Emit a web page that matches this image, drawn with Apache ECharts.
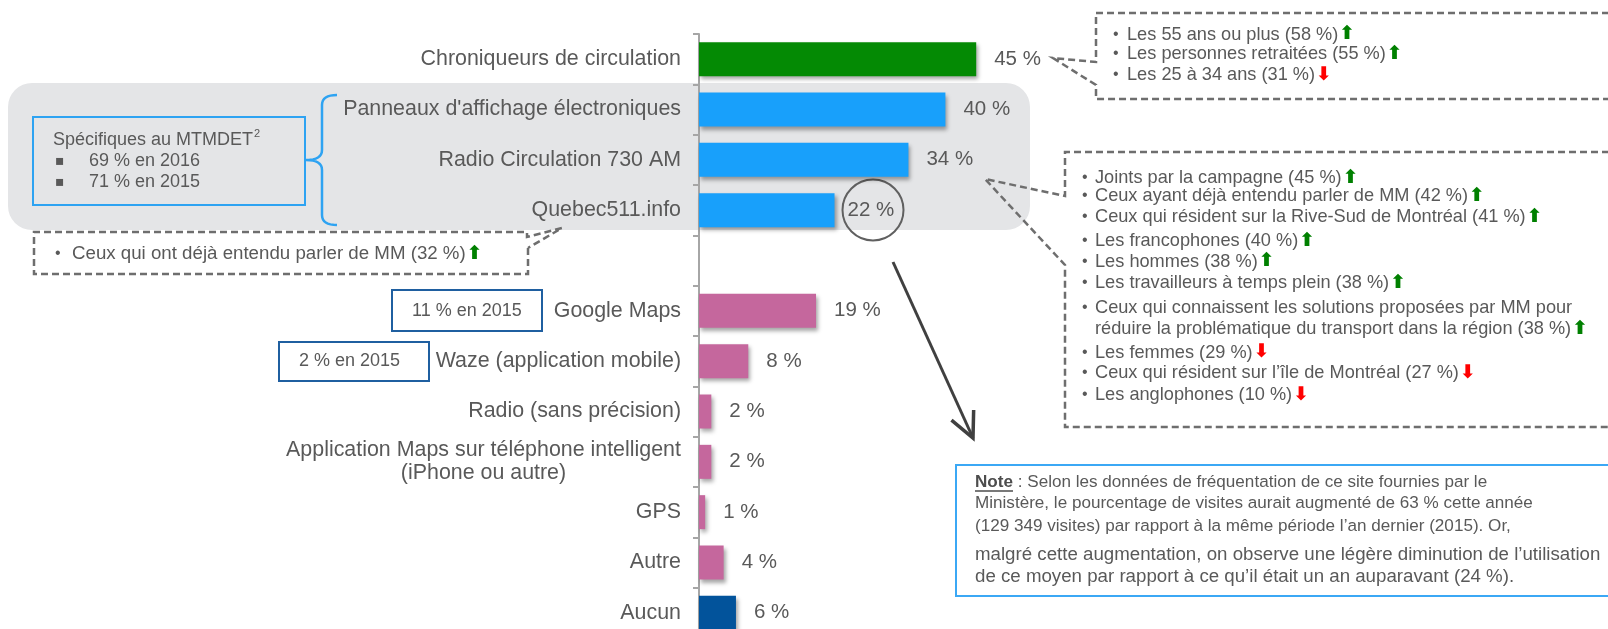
<!DOCTYPE html>
<html>
<head>
<meta charset="utf-8">
<script src="https://cdn.jsdelivr.net/npm/echarts@6/dist/echarts.min.js"></script>
<style>
  html, body { margin: 0; padding: 0; background: #fff; overflow: hidden; }
  #chart { width: 1608px; height: 660px; }
</style>
</head>
<body>
<div id="chart"></div>
<script>
// ---- data ----
var categories = [
    'Chroniqueurs de circulation',
    "Panneaux d'affichage électroniques",
    'Radio Circulation 730 AM',
    'Quebec511.info',
    '',
    'Google Maps',
    'Waze (application mobile)',
    'Radio (sans précision)',
    'Application Maps sur téléphone intelligent\n(iPhone ou autre)',
    'GPS',
    'Autre',
    'Aucun'
];
var values = [45, 40, 34, 22, null, 19, 8, 2, 2, 1, 4, 6];

var topNotes = [
    ['Les 55 ans ou plus (58 %)', 'up'],
    ['Les personnes retraitées (55 %)', 'up'],
    ['Les 25 à 34 ans (31 %)', 'down']
];
var radioNotes = [
    ['Joints par la campagne (45 %)', 'up'],
    ['Ceux ayant déjà entendu parler de MM (42 %)', 'up'],
    ['Ceux qui résident sur la Rive-Sud de Montréal (41 %)', 'up'],
    ['Les francophones (40 %)', 'up'],
    ['Les hommes (38 %)', 'up'],
    ['Les travailleurs à temps plein (38 %)', 'up'],
    ['Ceux qui connaissent les solutions proposées par MM pour', null],
    ['réduire la problématique du transport dans la région (38 %)', 'up', true],
    ['Les femmes (29 %)', 'down'],
    ['Ceux qui résident sur l’île de Montréal (27 %)', 'down'],
    ['Les anglophones (10 %)', 'down']
];
var quebecNote = ['Ceux qui ont déjà entendu parler de MM (32 %)', 'up'];
var noteLines = [
    ' : Selon les données de fréquentation de ce site fournies par le',
    'Ministère, le pourcentage de visites aurait augmenté de 63 % cette année',
    '(129 349 visites) par rapport à la même période l’an dernier (2015). Or,',
    'malgré cette augmentation, on observe une légère diminution de l’utilisation',
    'de ce moyen par rapport à ce qu’il était un an auparavant (24 %).'
];

// ---- style ----
var FONT = '"Liberation Sans", Arial, sans-serif';
var TXT = '#595959';
var DASH = '#6e6e6e';
var barColors = ['#048a04', '#18a0fb', '#18a0fb', '#18a0fb', '#c5679d',
    '#c5679d', '#c5679d', '#c5679d', '#c5679d', '#c5679d', '#c5679d', '#02539b'];

var ctx = document.createElement('canvas').getContext('2d');
function textW(s, size, weight) {
    ctx.font = (weight || 'normal') + ' ' + size + 'px ' + FONT;
    return ctx.measureText(s).width;
}
var appW = Math.ceil(textW(categories[8].split('\n')[0], 21.4));

var arrowRich = {
    up: { fontSize: 19, fontFamily: 'DejaVu Sans', fill: '#008000', fontWeight: 'bold', padding: [0, 0, 0, 1] },
    down: { fontSize: 19, fontFamily: 'DejaVu Sans', fill: '#ff0000', fontWeight: 'bold', padding: [0, 0, 0, 1] }
};

function bulletLines(list, bx, tx, ys, size) {
    var out = [];
    list.forEach(function (it, i) {
        if (!it[2]) {
            out.push({ type: 'text', x: bx, y: ys[i], style: { text: '•', fontSize: 16, fontFamily: FONT, fill: TXT, verticalAlign: 'middle' } });
        }
        var s = it[0] + (it[1] === 'up' ? '{up|⬆}' : it[1] === 'down' ? '{down|⬇}' : '');
        out.push({ type: 'text', x: tx, y: ys[i], style: {
            text: s, rich: arrowRich, fontSize: size, fontFamily: FONT, fill: TXT, verticalAlign: 'middle' } });
    });
    return out;
}

// quadratic curve points for the bracket
function quad(p0, c, p1) {
    var pts = [];
    for (var k = 0; k <= 8; k++) {
        var t = k / 8, u = 1 - t;
        pts.push([u * u * p0[0] + 2 * u * t * c[0] + t * t * p1[0], u * u * p0[1] + 2 * u * t * c[1] + t * t * p1[1]]);
    }
    return pts;
}
var bracket = [].concat(
    quad([337, 95], [322, 95], [322, 105]),
    quad([322, 150], [322, 160], [306, 160]),
    quad([306, 160], [322, 160], [322, 170]),
    quad([322, 215], [322, 225], [337, 225])
);

var dashStyle = { stroke: DASH, lineWidth: 2.5, lineDash: [7, 4], fill: null };

var elements = [
    // grey band behind the MTMDET media
    { type: 'rect', z: -10, shape: { x: 8, y: 83, width: 1022, height: 147, r: 24 }, style: { fill: '#e4e5e7' } },
    // blue box + bracket
    { type: 'rect', shape: { x: 33, y: 117, width: 272, height: 88 }, style: { fill: null, stroke: '#2ea3f2', lineWidth: 2 } },
    { type: 'text', x: 53, y: 140, style: { text: 'Spécifiques au MTMDET', fontSize: 18, fontFamily: FONT, fill: TXT, verticalAlign: 'middle' } },
    { type: 'text', x: 53 + textW('Spécifiques au MTMDET', 18) + 1, y: 134, style: { text: '2', fontSize: 11, fontFamily: FONT, fill: TXT, verticalAlign: 'middle' } },
    { type: 'text', x: 55, y: 161, style: { text: '▪', fontSize: 14, fontFamily: 'DejaVu Sans', fill: TXT, verticalAlign: 'middle' } },
    { type: 'text', x: 89, y: 161, style: { text: '69 % en 2016', fontSize: 18, fontFamily: FONT, fill: TXT, verticalAlign: 'middle' } },
    { type: 'text', x: 55, y: 182, style: { text: '▪', fontSize: 14, fontFamily: 'DejaVu Sans', fill: TXT, verticalAlign: 'middle' } },
    { type: 'text', x: 89, y: 182, style: { text: '71 % en 2015', fontSize: 18, fontFamily: FONT, fill: TXT, verticalAlign: 'middle' } },
    { type: 'polyline', shape: { points: bracket }, style: { fill: null, stroke: '#2ea3f2', lineWidth: 2.5 } },

    // 2015 boxes
    { type: 'rect', shape: { x: 392, y: 290, width: 150, height: 41 }, style: { fill: null, stroke: '#1f5fa0', lineWidth: 2 } },
    { type: 'text', x: 412, y: 311, style: { text: '11 % en 2015', fontSize: 18, fontFamily: FONT, fill: TXT, verticalAlign: 'middle' } },
    { type: 'rect', shape: { x: 279, y: 342, width: 150, height: 39 }, style: { fill: null, stroke: '#1f5fa0', lineWidth: 2 } },
    { type: 'text', x: 299, y: 361, style: { text: '2 % en 2015', fontSize: 18, fontFamily: FONT, fill: TXT, verticalAlign: 'middle' } },

    // dashed callouts
    { type: 'polyline', shape: { points: [[1620, 13], [1096, 13], [1096, 62], [1053, 58], [1096, 85], [1096, 99], [1620, 99]] }, style: dashStyle },
    { type: 'polyline', shape: { points: [[1620, 152], [1065, 152], [1065, 196], [985, 179], [1065, 265], [1065, 427], [1620, 427]] }, style: dashStyle },
    { type: 'polyline', shape: { points: [[528, 248], [528, 274], [34, 274], [34, 232], [527, 232], [527, 237], [562, 228], [528, 248]] }, style: dashStyle },

    // circle on 22 %
    { type: 'circle', shape: { cx: 873, cy: 210, r: 30.5 }, style: { fill: null, stroke: '#606060', lineWidth: 2 } },

    // note box
    { type: 'rect', shape: { x: 956, y: 465, width: 680, height: 131 }, style: { fill: null, stroke: '#3ba8f5', lineWidth: 2 } }
];

// arrow to the note
(function () {
    var x1 = 893, y1 = 262, x2 = 973, y2 = 438;
    var a = Math.atan2(y2 - y1, x2 - x1), L = 28, sp = 0.45;
    elements.push({ type: 'line', shape: { x1: x1, y1: y1, x2: x2, y2: y2 }, style: { stroke: '#404040', lineWidth: 3 } });
    elements.push({ type: 'polyline', shape: { points: [
        [x2 - L * Math.cos(a - sp), y2 - L * Math.sin(a - sp)], [x2, y2],
        [x2 - L * Math.cos(a + sp), y2 - L * Math.sin(a + sp)]] },
        style: { stroke: '#404040', lineWidth: 3.5, fill: null } });
})();

elements = elements.concat(bulletLines(topNotes, 1113, 1127, [34.5, 54, 75], 18.2));
elements = elements.concat(bulletLines(radioNotes, 1082, 1095,
    [178, 196, 217, 241, 261.5, 283, 307.5, 329, 352.5, 373, 395], 18.2));
elements = elements.concat(bulletLines([quebecNote], 55, 72, [254], 18.7));

// note text
var noteYs = [482, 503.5, 526, 555, 577];
var noteSizes = [17.1, 17.1, 17.1, 18.7, 18.7];
var noteW = textW('Note', 17.1, 'bold');
elements.push({ type: 'text', x: 975, y: noteYs[0], style: { text: 'Note', fontSize: 17.1, fontWeight: 'bold', fontFamily: FONT, fill: '#4d4d4d', verticalAlign: 'middle' } });
elements.push({ type: 'line', shape: { x1: 975, y1: noteYs[0] + 9, x2: 975 + noteW, y2: noteYs[0] + 9 }, style: { stroke: '#4d4d4d', lineWidth: 1.5 } });
noteLines.forEach(function (s, i) {
    elements.push({ type: 'text', x: i === 0 ? 975 + noteW : 975, y: noteYs[i],
        style: { text: s, fontSize: noteSizes[i], fontFamily: FONT, fill: TXT, verticalAlign: 'middle' } });
});

var myChart = echarts.init(document.getElementById('chart'));
var option = {
    animation: false,
    grid: { left: 699, top: 34, width: 616, height: 604, containLabel: false },
    xAxis: { type: 'value', min: 0, max: 100, show: false },
    yAxis: {
        type: 'category',
        inverse: true,
        data: categories,
        axisLine: { lineStyle: { color: '#a6a6a6', width: 2 } },
        axisTick: { show: true, length: 6, lineStyle: { color: '#a6a6a6', width: 2 } },
        axisLabel: {
            fontSize: 21.4,
            fontFamily: FONT,
            color: TXT,
            margin: 18,
            lineHeight: 23,
            formatter: function (v) {
                if (v.indexOf('\n') < 0) return v;
                return v.split('\n').map(function (s) { return '{c|' + s + '}'; }).join('\n');
            },
            rich: { c: { width: appW, align: 'center', fontSize: 21.4, fontFamily: FONT, color: TXT, lineHeight: 23 } }
        }
    },
    series: [{
        type: 'bar',
        barWidth: 34,
        data: values.map(function (v, i) {
            var d = { value: v, itemStyle: { color: barColors[i] } };
            if (i === 3) d.label = { distance: 13 };
            return d;
        }),
        itemStyle: { shadowColor: 'rgba(0,0,0,0.35)', shadowBlur: 4, shadowOffsetX: 2, shadowOffsetY: 3 },
        label: {
            show: true,
            position: 'right',
            distance: 18,
            fontSize: 20.5,
            fontFamily: FONT,
            color: TXT,
            formatter: function (p) { return p.value == null ? '' : p.value + ' %'; }
        }
    }],
    graphic: { elements: elements }
};
myChart.setOption(option);

window.addEventListener('resize', function () { myChart.resize(); });
</script>
</body>
</html>
